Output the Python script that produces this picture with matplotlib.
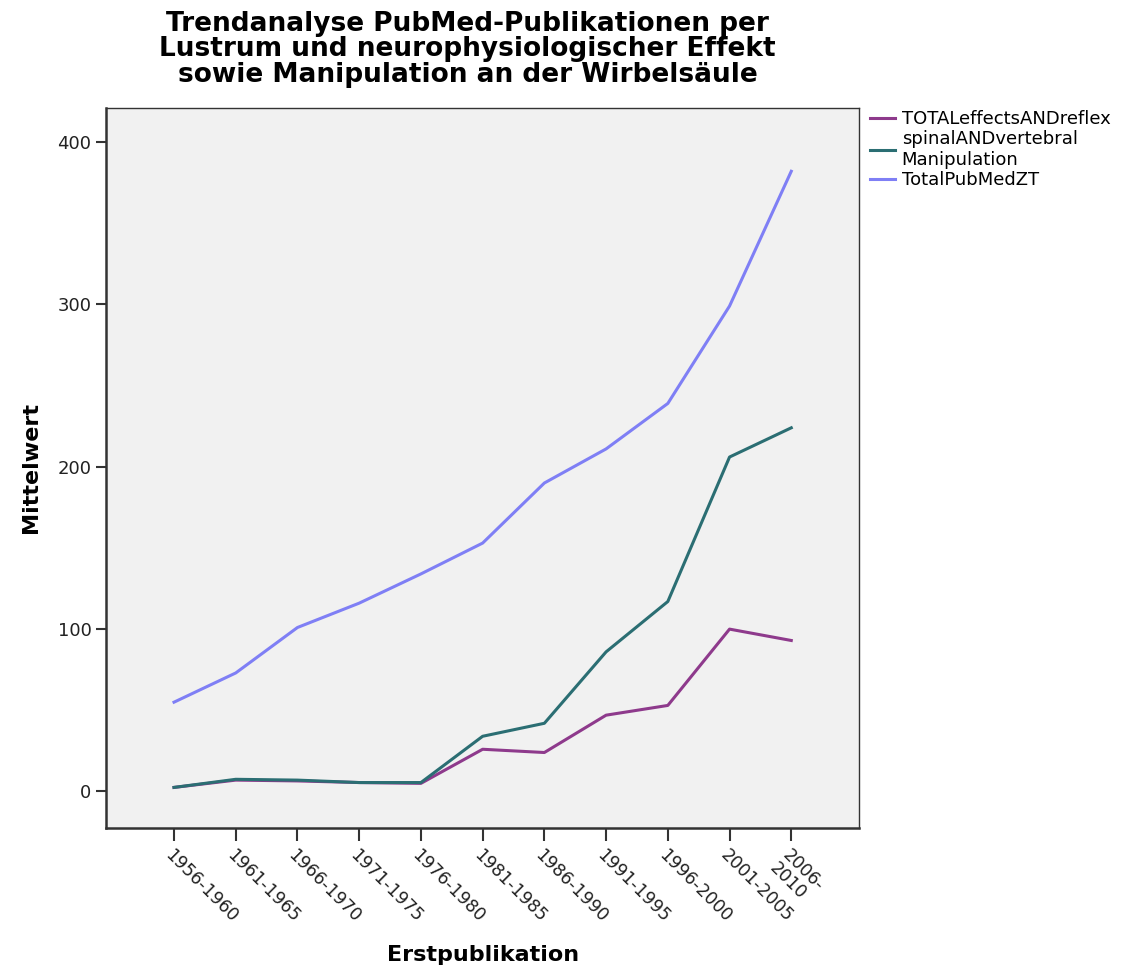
import numpy as np
import matplotlib
matplotlib.use("Agg")
import matplotlib.pyplot as plt

# Lustren (5-year periods)
periods = ["1956-1960", "1961-1965", "1966-1970", "1971-1975", "1976-1980",
           "1981-1985", "1986-1990", "1991-1995", "1996-2000", "2001-2005",
           "2006-\n2010"]

# mean publications per lustrum
total_effects = [2.5, 7, 6.5, 5.5, 5, 26, 24, 47, 53, 100, 93]
spinal_manip = [2.5, 7.5, 7, 5.5, 5.5, 34, 42, 86, 117, 206, 224]
total_pubmed = [55, 73, 101, 116, 134, 153, 190, 211, 239, 299, 382]

series_names = ["TOTALeffectsANDreflex", "spinalANDvertebral\nManipulation", "TotalPubMedZT"]
colors = ["#8e3a8c", "#2b6e73", "#7f7ff5"]

fig = plt.figure(figsize=(11.41, 9.77), dpi=100)
ax = fig.add_axes([0.093, 0.1525, 0.660, 0.737])
ax.set_facecolor("#f1f1f1")

x = np.arange(len(periods))
for vals, name, c in zip([total_effects, spinal_manip, total_pubmed], series_names, colors):
    ax.plot(x, vals, color=c, lw=2.2, label=name)

ax.set_xlim(-1.1, 11.1)
ax.set_ylim(-22.5, 421)
ax.set_yticks([0, 100, 200, 300, 400])
ax.set_xticks(x)
ax.set_xticklabels(periods, rotation=-45, ha="left", va="top",
                   rotation_mode="anchor", fontsize=12.5, color="#222222",
                   linespacing=1.0)
ax.tick_params(axis="y", labelsize=13, length=7, width=1.5, color="#333333",
               labelcolor="#222222")
ax.tick_params(axis="x", length=9, width=1.5, color="#333333", pad=4)
for side, sp in ax.spines.items():
    sp.set_color("#333333")
    sp.set_linewidth(1.8 if side in ("left", "bottom") else 1.0)

ax.set_ylabel("Mittelwert", fontsize=16, fontweight="bold", labelpad=12)
ax.set_xlabel("Erstpublikation", fontsize=16, fontweight="bold", labelpad=14)

fig.text(0.41, 0.989,
         "Trendanalyse PubMed-Publikationen per\n"
         "Lustrum und neurophysiologischer Effekt\n"
         "sowie Manipulation an der Wirbelsäule",
         ha="center", va="top", fontsize=19, fontweight="bold", linespacing=0.97)

ax.legend(loc="upper left", bbox_to_anchor=(1.0, 1.012), frameon=False,
          fontsize=13, handlelength=1.4, handletextpad=0.35, labelspacing=0.12,
          borderaxespad=0.2)

fig.savefig("out.png", dpi=100)
